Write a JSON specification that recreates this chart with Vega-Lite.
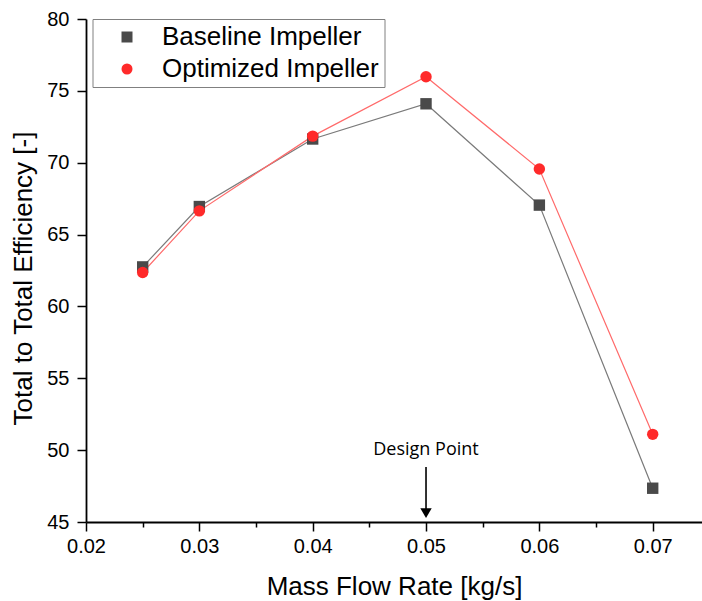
{
  "$schema": "https://vega.github.io/schema/vega-lite/v6.json",
  "width": 616,
  "height": 503,
  "autosize": {"type": "none"},
  "padding": {"left": 86, "top": 19, "right": 0, "bottom": 79},
  "background": "white",
  "config": {"view": {"stroke": null}, "font": "Liberation Sans"},
  "datasets": {
    "eff": [
      {"series": "Baseline Impeller", "flow": 0.025, "eff": 62.75},
      {"series": "Baseline Impeller", "flow": 0.03, "eff": 66.95},
      {"series": "Baseline Impeller", "flow": 0.04, "eff": 71.65},
      {"series": "Baseline Impeller", "flow": 0.05, "eff": 74.1},
      {"series": "Baseline Impeller", "flow": 0.06, "eff": 67.05},
      {"series": "Baseline Impeller", "flow": 0.07, "eff": 47.35},
      {"series": "Optimized Impeller", "flow": 0.025, "eff": 62.36},
      {"series": "Optimized Impeller", "flow": 0.03, "eff": 66.65},
      {"series": "Optimized Impeller", "flow": 0.04, "eff": 71.85},
      {"series": "Optimized Impeller", "flow": 0.05, "eff": 75.98},
      {"series": "Optimized Impeller", "flow": 0.06, "eff": 69.56},
      {"series": "Optimized Impeller", "flow": 0.07, "eff": 51.1}
    ],
    "note": [
      {"flow": 0.05, "top": 48.83, "bottom": 45.84, "tip": 45.62, "label_y": 50.0, "label": "Design Point"}
    ]
  },
  "layer": [
    {
      "data": {"name": "eff"},
      "transform": [{"filter": "datum.series === 'Baseline Impeller'"}],
      "mark": {"type": "line", "strokeWidth": 1.2, "color": "#7a7a7a"},
      "encoding": {
        "x": {
          "field": "flow", "type": "quantitative",
          "scale": {"domain": [0.02, 0.07435], "nice": false, "zero": false},
          "axis": {
            "title": "Mass Flow Rate [kg/s]",
            "values": [0.02, 0.025, 0.03, 0.035, 0.04, 0.045, 0.05, 0.055, 0.06, 0.065, 0.07],
            "labelExpr": "round(datum.value*1000) % 10 == 0 ? format(datum.value, '.2f') : ''",
            "tickSize": {"condition": {"test": "round(datum.value*1000) % 10 == 0", "value": 9}, "value": 5},
            "grid": false, "domainColor": "black", "domainWidth": 1.8, "tickColor": "black", "tickWidth": 1.5,
            "labelFont": "Liberation Sans", "labelFontSize": 20, "labelColor": "black", "labelPadding": 5,
            "labelFlush": false, "labelOverlap": false,
            "titleFont": "Liberation Sans", "titleFontSize": 26, "titleFontWeight": "normal", "titleColor": "black", "titlePadding": 17
          }
        },
        "y": {
          "field": "eff", "type": "quantitative",
          "scale": {"domain": [45, 80], "nice": false, "zero": false},
          "axis": {
            "title": "Total to Total Efficiency [-]",
            "values": [45, 47.5, 50, 52.5, 55, 57.5, 60, 62.5, 65, 67.5, 70, 72.5, 75, 77.5, 80],
            "labelExpr": "datum.value % 5 == 0 ? format(datum.value, 'd') : ''",
            "tickSize": {"condition": {"test": "datum.value % 5 == 0", "value": 9}, "value": 5},
            "grid": false, "domainColor": "black", "domainWidth": 1.8, "tickColor": "black", "tickWidth": 1.5,
            "labelFont": "Liberation Sans", "labelFontSize": 20, "labelColor": "black", "labelPadding": 8,
            "labelFlush": false, "labelOverlap": false,
            "titleFont": "Liberation Sans", "titleFontSize": 26, "titleFontWeight": "normal", "titleColor": "black", "titlePadding": 10,
            "titleY": 259
          }
        }
      }
    },
    {
      "data": {"name": "eff"},
      "transform": [{"filter": "datum.series === 'Optimized Impeller'"}],
      "mark": {"type": "line", "strokeWidth": 1.2, "color": "#ff6a6a"},
      "encoding": {
        "x": {"field": "flow", "type": "quantitative"},
        "y": {"field": "eff", "type": "quantitative"}
      }
    },
    {
      "data": {"name": "eff"},
      "mark": {"type": "point", "filled": true, "opacity": 1, "size": 130},
      "encoding": {
        "x": {"field": "flow", "type": "quantitative"},
        "y": {"field": "eff", "type": "quantitative"},
        "color": {
          "field": "series", "type": "nominal",
          "scale": {"range": ["#4a4a4a", "#ff2a2a"]},
          "legend": {
            "title": null, "orient": "none", "legendX": 6.5, "legendY": 0,
            "strokeColor": "#808080", "fillColor": "white", "padding": 5,
            "labelFont": "Liberation Sans", "labelFontSize": 26, "labelColor": "black", "labelLimit": 400,
            "symbolSize": 121, "symbolOffset": 16.5, "labelOffset": 22, "rowPadding": 6
          }
        },
        "shape": {
          "field": "series", "type": "nominal",
          "scale": {"range": ["square", "circle"]},
          "legend": {
            "title": null, "orient": "none", "legendX": 6.5, "legendY": 0,
            "strokeColor": "#808080", "fillColor": "white", "padding": 5,
            "labelFont": "Liberation Sans", "labelFontSize": 26, "labelColor": "black", "labelLimit": 400,
            "symbolSize": 121, "symbolOffset": 16.5, "labelOffset": 22, "rowPadding": 6
          }
        }
      }
    },
    {
      "data": {"name": "note"},
      "mark": {"type": "rule", "color": "black", "strokeWidth": 1.6},
      "encoding": {
        "x": {"field": "flow", "type": "quantitative"},
        "y": {"field": "top", "type": "quantitative"},
        "y2": {"field": "bottom"}
      }
    },
    {
      "data": {"name": "note"},
      "mark": {"type": "point", "shape": "triangle-down", "filled": true, "color": "black", "opacity": 1, "size": 130},
      "encoding": {
        "x": {"field": "flow", "type": "quantitative"},
        "y": {"field": "tip", "type": "quantitative"}
      }
    },
    {
      "data": {"name": "note"},
      "mark": {"type": "text", "font": "Open Sans", "fontSize": 18, "color": "black", "baseline": "middle", "align": "center"},
      "encoding": {
        "x": {"field": "flow", "type": "quantitative"},
        "y": {"field": "label_y", "type": "quantitative"},
        "text": {"field": "label"}
      }
    }
  ]
}
